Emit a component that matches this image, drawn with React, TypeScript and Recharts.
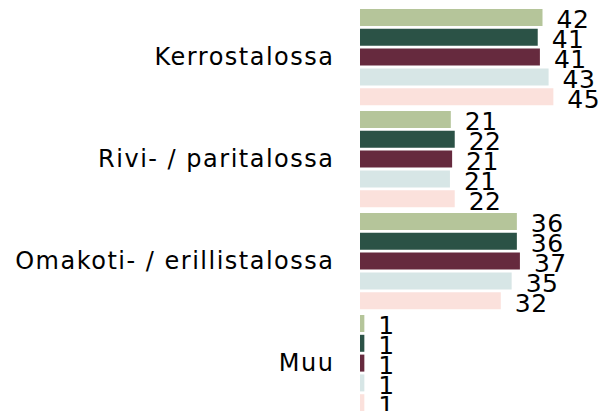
import React from 'react';
import { BarChart, Bar, XAxis, YAxis, LabelList } from 'recharts';

const categories = ['Kerrostalossa', 'Rivi- / paritalossa', 'Omakoti- / erillistalossa', 'Muu'];
const series1 = [42.0, 20.9, 36.1, 1.0];
const series2 = [40.9, 21.8, 36.1, 1.0];
const series3 = [41.4, 21.2, 36.8, 1.0];
const series4 = [43.4, 20.7, 34.9, 1.0];
const series5 = [44.5, 21.8, 32.4, 1.0];
const seriesKeys = ['s1', 's2', 's3', 's4', 's5'];
const seriesColors = ['#b5c59a', '#2b5246', '#662a3e', '#d7e6e6', '#fbe1dc'];
const allSeries = [series1, series2, series3, series4, series5];

const data = categories.map((name, i) => {
  const row: Record<string, string | number> = { name };
  seriesKeys.forEach((k, j) => {
    row[k] = allSeries[j][i];
  });
  return row;
});

const FONT = 'DejaVu Sans, Verdana, sans-serif';

export default function App() {
  return (
    <div style={{ position: 'absolute', left: 0, top: 0, width: 608, height: 411, overflow: 'hidden', background: '#fff' }}>
      <BarChart
        width={608}
        height={416}
        data={data}
        layout="vertical"
        margin={{ top: 5.5, right: 9, bottom: 2.5, left: 0 }}
        barCategoryGap={3.5}
        barGap={2.8}
      >
        <XAxis type="number" domain={[0, 55]} hide />
        <YAxis
          type="category"
          dataKey="name"
          width={360}
          axisLine={false}
          tickLine={false}
          tickSize={0}
          tickMargin={25.5}
          interval={0}
          tick={{ fontSize: 24, fill: '#000', fontFamily: FONT, letterSpacing: 1.5 }}
        />
        {seriesKeys.map((k, j) => (
          <Bar key={k} dataKey={k} fill={seriesColors[j]} isAnimationActive={false}>
            <LabelList
              dataKey={k}
              position="right"
              offset={14}
              formatter={(v: number) => Math.round(v)}
              style={{ fontSize: 25, fill: '#000', fontFamily: FONT, letterSpacing: 0.5 }}
              dy={2}
            />
          </Bar>
        ))}
      </BarChart>
    </div>
  );
}
